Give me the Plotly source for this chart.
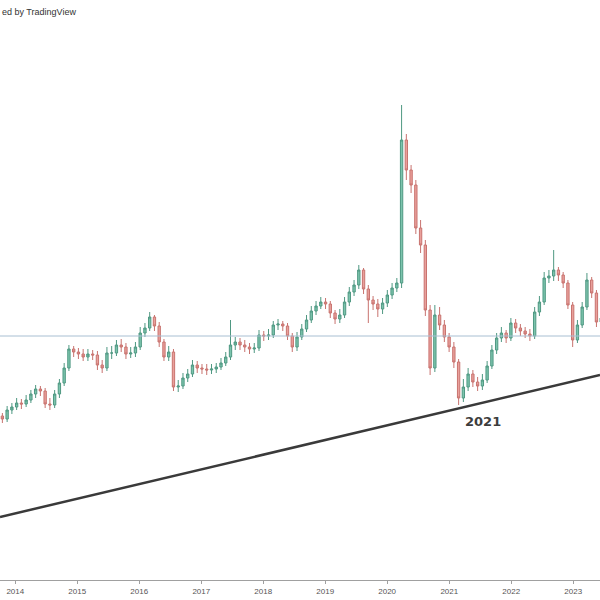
import pandas as pd
import plotly.graph_objects as go

# ---- data (arbitrary price units) ----
start_date = "2013-10-17"
period_days = 28

opens = [184,181,190,193,197,196,200,206,211,209,
         196,195,206,217,232,251,248,246,243,246,
         245,235,232,247,247,255,253,246,247,253,
         267,272,283,274,258,243,248,213,214,222,
         226,235,232,231,230,231,233,237,243,255,
         258,255,253,251,252,265,264,265,275,276,
         274,264,253,263,271,280,289,294,298,296,
         287,281,285,298,308,315,330,311,300,296,
         291,297,305,312,317,460,430,415,372,355,
         290,232,285,275,263,253,238,202,213,226,
         218,214,220,234,250,262,267,262,277,272,
         269,266,264,288,298,322,324,330,325,317,
         295,260,275,293,320,307,278]

closes = [181,190,193,197,196,200,206,211,209,196,
          195,206,217,232,251,248,246,243,246,245,
          235,232,247,247,255,253,246,247,253,267,
          272,283,274,258,243,248,213,214,222,226,
          235,232,231,230,231,233,237,243,255,258,
          255,253,251,252,265,264,265,275,276,274,
          264,253,263,271,280,289,294,298,296,287,
          281,285,298,308,315,330,311,300,296,291,
          297,305,312,317,460,430,415,372,355,290,
          232,285,275,263,253,238,202,213,226,218,
          214,220,234,250,262,267,262,277,272,269,
          266,264,288,298,322,324,330,325,317,295,
          260,275,293,320,307,278,282]

highs = [187,194,197,202,201,205,210,215,214,212,
         202,210,221,237,255,254,252,251,251,250,
         249,240,253,254,260,261,257,253,258,273,
         277,288,285,278,261,254,251,220,227,231,
         240,239,236,236,236,237,242,248,280,263,
         262,260,257,257,270,269,271,279,281,279,
         277,267,268,276,285,294,299,303,302,299,
         290,291,303,313,320,335,332,315,304,301,
         302,310,317,322,495,466,435,420,380,360,
         295,295,293,280,267,258,241,221,232,230,
         223,226,239,255,267,273,270,282,281,276,
         273,271,293,304,328,330,350,333,328,320,
         298,280,298,327,323,310,288]

lows = [177,178,186,190,191,193,197,202,204,192,
        190,192,202,214,229,243,241,239,239,240,
        230,227,229,241,244,248,241,242,243,250,
        263,269,269,253,239,239,209,208,211,218,
        223,227,226,225,226,227,230,234,240,250,
        250,248,246,247,249,259,260,262,270,269,
        260,248,249,260,268,277,285,291,291,282,
        276,277,282,294,304,311,306,277,290,283,
        286,293,301,308,312,420,407,366,347,284,
        225,228,270,258,248,232,195,198,209,213,
        209,210,217,231,246,258,257,259,267,264,
        262,259,261,284,295,317,319,319,312,291,
        253,257,272,290,302,273,274]

level_value = 264                      # horizontal level
trend_dates = ["2013-10-03", "2023-06-08"]
trend_values = [83, 225]               # rising support line
label_date = "2021-07-20"
label_value = 179
label_text = "2021"
x_range = ["2013-10-03", "2023-06-08"]
y_range = [20, 600]

dates = pd.date_range(start_date, periods=len(closes), freq=f"{period_days}D")

fig = go.Figure()
fig.add_trace(go.Candlestick(
    x=dates, open=opens, high=highs, low=lows, close=closes,
    increasing=dict(line=dict(color="#4f9882", width=1), fillcolor="#7cc4ad"),
    decreasing=dict(line=dict(color="#c8736f", width=1), fillcolor="#e9a09b"),
    whiskerwidth=0, hoverinfo="skip", showlegend=False,
))
fig.add_trace(go.Scatter(
    x=x_range, y=[level_value, level_value], mode="lines",
    line=dict(color="#a8bfd2", width=1), hoverinfo="skip", showlegend=False,
))
fig.add_trace(go.Scatter(
    x=trend_dates, y=trend_values, mode="lines",
    line=dict(color="#3a3a3a", width=2.5), hoverinfo="skip", showlegend=False,
))
fig.add_annotation(
    x=label_date, y=label_value, text="<b>" + label_text + "</b>", showarrow=False,
    font=dict(family="DejaVu Sans", size=13, color="#3d3d3d"),
)
fig.add_annotation(
    x=0, y=1, xref="paper", yref="paper", xanchor="left", yanchor="top",
    yshift=-5, text="ed by TradingView", showarrow=False,
    font=dict(family="Arial", size=9, color="#333333"),
)

fig.update_layout(
    width=600, height=600,
    margin=dict(l=0, r=0, t=0, b=20),
    paper_bgcolor="white", plot_bgcolor="white",
    xaxis=dict(
        type="date", range=x_range, rangeslider=dict(visible=False),
        showgrid=False, zeroline=False, showline=True, linecolor="#a0a0a0",
        linewidth=1, ticks="outside", ticklen=3, tickcolor="#a0a0a0",
        dtick="M12", tick0="2014-01-01", tickformat="%Y",
        tickfont=dict(family="Arial", size=8, color="#555555"),
    ),
    yaxis=dict(range=y_range, visible=False, showgrid=False, zeroline=False),
)

fig.write_html(
    "out.html",
    config={"displayModeBar": False},
    post_script="document.body.style.margin='0';document.body.style.padding='0';"
                "document.body.style.overflow='hidden';",
)
